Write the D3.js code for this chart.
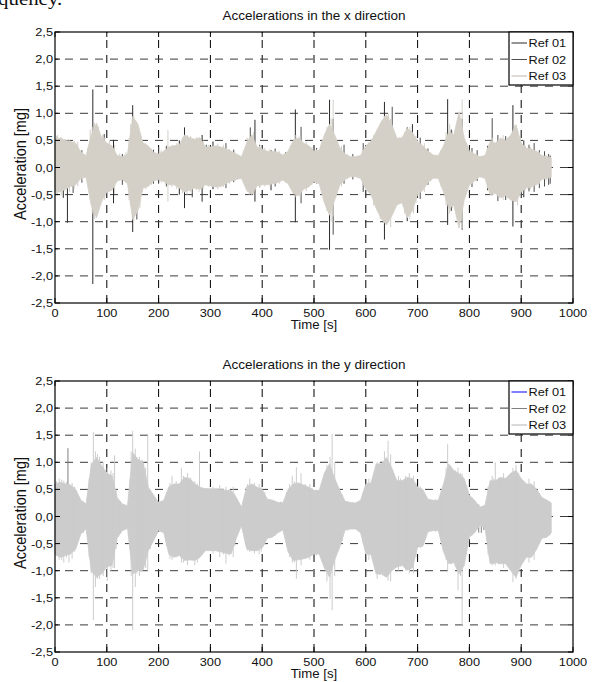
<!DOCTYPE html>
<html>
<head>
<meta charset="utf-8">
<script src="https://cdn.jsdelivr.net/npm/d3@7"></script>
<style>
body { margin: 0; background: #fff; }
text { font-family: "Liberation Sans", Arial, sans-serif; fill: #111; }
</style>
</head>
<body>
<div id="chart"></div>
<script>
// tick values
var xTicks = [0, 100, 200, 300, 400, 500, 600, 700, 800, 900, 1000];
var yTicks = [-2.5, -2.0, -1.5, -1.0, -0.5, 0.0, 0.5, 1.0, 1.5, 2.0, 2.5];

// envelope of the dense signal, read every 10 s: [time, max, min]
var xRef03Env = [[0,0.50,-0.45],[10,0.55,-0.45],[20,0.50,-0.40],[30,0.48,-0.35],[40,0.45,-0.32],[50,0.28,-0.20],[60,0.22,-0.18],[70,0.60,-0.70],[80,0.82,-0.93],[90,0.55,-0.63],
  [100,0.45,-0.45],[110,0.40,-0.42],[120,0.22,-0.25],[130,0.20,-0.22],[140,0.25,-0.30],[150,0.94,-0.96],[160,0.80,-0.80],[170,0.45,-0.38],[180,0.40,-0.35],[190,0.28,-0.25],
  [200,0.25,-0.22],[210,0.30,-0.26],[220,0.38,-0.32],[230,0.40,-0.32],[240,0.42,-0.38],[250,0.60,-0.45],[260,0.55,-0.42],[270,0.52,-0.38],[280,0.55,-0.40],[290,0.38,-0.32],
  [300,0.38,-0.34],[310,0.40,-0.36],[320,0.38,-0.35],[330,0.35,-0.30],[340,0.30,-0.25],[350,0.25,-0.22],[360,0.20,-0.20],[370,0.45,-0.42],[380,0.60,-0.50],[390,0.38,-0.34],
  [400,0.34,-0.32],[410,0.30,-0.32],[420,0.30,-0.30],[430,0.28,-0.28],[440,0.23,-0.23],[450,0.30,-0.30],[460,0.50,-0.48],[470,0.55,-0.52],[480,0.45,-0.40],[490,0.40,-0.36],
  [500,0.30,-0.26],[510,0.32,-0.30],[520,0.60,-0.65],[530,0.80,-0.88],[540,0.60,-0.60],[550,0.36,-0.32],[560,0.25,-0.22],[570,0.20,-0.17],[580,0.20,-0.17],[590,0.22,-0.20],
  [600,0.40,-0.40],[610,0.48,-0.50],[620,0.66,-0.75],[630,0.85,-0.95],[640,0.97,-1.06],[650,0.80,-0.90],[660,0.54,-0.69],[670,0.55,-0.65],[680,0.72,-0.93],[690,0.65,-0.80],
  [700,0.48,-0.50],[710,0.40,-0.42],[720,0.30,-0.28],[730,0.23,-0.20],[740,0.22,-0.20],[750,0.40,-0.45],[760,0.66,-0.75],[770,0.60,-0.70],[780,1.03,-1.12],[790,0.55,-0.60],
  [800,0.30,-0.32],[810,0.25,-0.25],[820,0.20,-0.17],[830,0.22,-0.20],[840,0.48,-0.50],[850,0.45,-0.48],[860,0.54,-0.56],[870,0.50,-0.52],[880,0.60,-0.60],[890,0.79,-0.63],
  [900,0.45,-0.45],[910,0.36,-0.38],[920,0.34,-0.36],[930,0.30,-0.32],[940,0.22,-0.22],[950,0.20,-0.20],[958,0.18,-0.18]];

// single peaks: [time, max, min]
var xRef03Spikes = [[5,0.60,-0.50],[12,0.55,-0.52],[28,0.50,-0.45],[44,0.48,-0.35],[68,0.70,-0.60],[76,0.82,-0.95],[84,0.75,-0.80],[96,0.55,-0.60],[105,0.50,-0.45],
  [146,0.80,-0.70],[152,0.94,-1.00],[164,0.60,-0.75],[175,0.45,-0.40],[218,0.69,-0.63],[235,0.45,-0.40],[255,0.60,-0.50],[278,0.55,-0.45],[375,0.55,-0.50],[383,0.65,-0.50],
  [465,0.60,-0.55],[525,0.75,-0.80],[533,0.90,-1.00],[537,1.25,-0.90],[615,0.60,-0.70],[628,0.80,-0.95],[644,1.00,-1.00],[648,0.90,-1.10],[675,0.65,-0.85],[685,0.75,-0.95],
  [692,0.60,-0.85],[755,0.65,-0.70],[762,0.80,-0.85],[781,1.00,-1.00],[786,1.26,-1.12],[845,0.55,-0.50],[865,0.60,-0.60],[888,0.79,-0.60],[893,0.70,-0.70],
  [3,0.58,-0.48],[19,0.52,-0.44],[37,0.50,-0.40],[53,0.30,-0.24],[63,0.35,-0.30],[72,0.75,-0.85],[92,0.60,-0.55],[115,0.42,-0.48],[125,0.26,-0.22],[137,0.28,-0.25],
  [143,0.55,-0.60],[157,0.85,-0.85],[168,0.50,-0.45],[186,0.35,-0.32],[205,0.32,-0.28],[213,0.35,-0.30],[226,0.42,-0.36],[246,0.55,-0.48],[262,0.58,-0.46],[273,0.56,-0.42],
  [286,0.50,-0.40],[296,0.42,-0.35],[314,0.44,-0.40],[325,0.42,-0.36],[337,0.34,-0.30],[347,0.30,-0.25],[366,0.35,-0.30],[371,0.55,-0.45],[395,0.40,-0.38],[405,0.36,-0.35],
  [415,0.34,-0.36],[433,0.30,-0.30],[455,0.40,-0.38],[473,0.58,-0.55],[485,0.48,-0.44],[496,0.38,-0.32],[505,0.33,-0.30],[515,0.45,-0.45],[544,0.48,-0.45],[553,0.40,-0.35],
  [565,0.24,-0.20],[585,0.22,-0.20],[597,0.35,-0.35],[605,0.46,-0.45],[612,0.52,-0.55],[622,0.70,-0.80],[636,0.95,-1.00],[656,0.62,-0.75],[665,0.55,-0.66],[697,0.58,-0.65],
  [713,0.45,-0.45],[725,0.28,-0.25],[745,0.32,-0.35],[767,0.68,-0.75],[775,0.75,-0.85],[795,0.45,-0.45],[805,0.30,-0.30],[835,0.35,-0.38],[842,0.52,-0.52],[857,0.52,-0.55],
  [874,0.55,-0.56],[898,0.55,-0.55],[908,0.40,-0.42],[918,0.38,-0.40],[935,0.28,-0.30],[948,0.23,-0.24]];
var xRef01Spikes = [[16,0.30,-0.56],[24,0.30,-1.02],[73,1.44,-2.15],[113,0.51,-0.66],[150,1.15,-1.19],[250,0.74,-0.75],[284,0.60,-0.63],[386,0.88,-0.63],[464,1.07,-1.01],
  [530,1.25,-1.52],[636,1.21,-1.33],[680,0.74,-0.99],[758,1.26,-1.06],[884,1.15,-1.09],[240,0.50,-0.50],[305,0.48,-0.40],[417,0.32,-0.42],[690,0.80,-0.70],[765,0.70,-0.80],[905,0.50,-0.55]];
var xRef02Spikes = [[35,0.35,-0.47],[158,0.50,-0.96],[377,0.74,-0.50],[475,0.75,-0.66],[537,0.90,-1.24],[558,0.42,-0.30],[651,1.12,-0.80],[786,0.90,-1.15],[844,0.91,-0.50],
  [945,0.30,-0.35],[953,0.25,-0.32],[200,0.38,-0.30],[265,0.45,-0.55],[330,0.45,-0.38],[425,0.35,-0.35],[595,0.45,-0.45],[705,0.55,-0.58],[855,0.60,-0.62],[925,0.45,-0.45],
  [52,0.32,-0.28],[95,0.62,-0.50],[130,0.25,-0.32],[190,0.33,-0.30],[215,0.40,-0.35],[292,0.42,-0.30],[345,0.33,-0.27],[395,0.42,-0.36],[445,0.28,-0.27],[505,0.36,-0.30],
  [575,0.25,-0.22],[720,0.35,-0.32],[805,0.36,-0.36],[815,0.32,-0.25],[835,0.40,-0.42],[870,0.58,-0.60],[915,0.42,-0.44],[935,0.32,-0.38],[956,0.22,-0.30]];

var yRef03Env = [[0,0.60,-0.70],[10,0.63,-0.75],[20,0.60,-0.72],[30,0.58,-0.69],[40,0.50,-0.60],[50,0.30,-0.32],[60,0.23,-0.23],[70,0.95,-1.00],[80,1.09,-1.12],[90,0.94,-1.06],
  [100,0.80,-0.93],[110,0.75,-0.90],[120,0.35,-0.40],[130,0.23,-0.26],[140,0.20,-0.22],[150,1.18,-1.06],[160,1.05,-1.00],[170,1.00,-0.99],[180,0.54,-0.63],[190,0.40,-0.45],
  [200,0.26,-0.26],[210,0.30,-0.30],[220,0.55,-0.70],[230,0.60,-0.75],[240,0.60,-0.72],[250,0.72,-0.81],[260,0.70,-0.80],[270,0.60,-0.81],[280,0.54,-0.75],[290,0.51,-0.63],
  [300,0.51,-0.63],[310,0.51,-0.63],[320,0.50,-0.65],[330,0.48,-0.68],[340,0.48,-0.69],[350,0.35,-0.40],[360,0.17,-0.17],[370,0.55,-0.60],[380,0.60,-0.63],[390,0.54,-0.63],
  [400,0.50,-0.58],[410,0.32,-0.40],[420,0.30,-0.38],[430,0.26,-0.30],[440,0.25,-0.25],[450,0.50,-0.65],[460,0.60,-0.81],[470,0.62,-0.80],[480,0.58,-0.78],[490,0.54,-0.75],
  [500,0.48,-0.69],[510,0.48,-0.69],[520,0.80,-0.95],[530,0.97,-1.12],[540,0.70,-0.80],[550,0.48,-0.56],[560,0.28,-0.25],[570,0.26,-0.23],[580,0.25,-0.23],[590,0.30,-0.30],
  [600,0.60,-0.69],[610,0.62,-0.70],[620,0.97,-1.06],[630,0.97,-1.06],[640,1.09,-1.12],[650,0.90,-1.00],[660,0.66,-0.93],[670,0.66,-0.90],[680,0.72,-0.99],[690,0.70,-0.95],
  [700,0.54,-0.56],[710,0.50,-0.55],[720,0.32,-0.28],[730,0.30,-0.26],[740,0.30,-0.26],[750,0.60,-0.65],[760,0.97,-0.87],[770,0.85,-0.85],[780,0.79,-1.06],[790,0.70,-0.90],
  [800,0.39,-0.38],[810,0.30,-0.30],[820,0.17,-0.17],[830,0.20,-0.20],[840,0.66,-0.87],[850,0.66,-0.85],[860,0.72,-0.87],[870,0.70,-0.87],[880,0.80,-1.00],[890,0.85,-1.12],
  [900,0.70,-0.90],[910,0.60,-0.75],[920,0.60,-0.75],[930,0.50,-0.60],[940,0.35,-0.40],[950,0.30,-0.38],[958,0.25,-0.30]];
var yRef03Spikes = [[8,0.70,-0.80],[17,0.66,-0.85],[33,0.62,-0.78],[74,1.56,-1.91],[78,1.20,-1.30],[86,1.10,-1.15],[101,0.90,-1.19],[108,0.85,-1.00],[115,1.13,-0.95],
  [150,1.58,-2.10],[155,1.25,-1.30],[163,1.10,-1.10],[179,1.50,-1.00],[226,0.75,-0.80],[244,0.90,-0.85],[256,0.80,-0.90],[270,0.65,-0.90],[279,1.20,-0.70],[318,0.58,-0.75],
  [330,0.55,-0.87],[344,0.55,-0.75],[376,0.70,-0.65],[394,0.60,-0.70],[458,0.75,-0.85],[466,0.91,-1.15],[475,0.80,-0.90],[492,0.60,-0.80],[525,0.95,-1.20],[531,1.10,-1.52],
  [535,1.52,-1.73],[540,1.00,-1.10],[606,0.70,-0.80],[622,1.00,-1.15],[636,1.20,-1.10],[643,1.40,-1.18],[648,1.15,-1.20],[663,0.75,-1.00],[684,0.80,-1.05],[692,0.75,-1.05],
  [755,0.90,-0.80],[758,1.34,-1.00],[778,0.90,-1.36],[786,0.79,-2.00],[844,0.75,-0.90],[850,1.00,-0.90],[866,0.80,-0.95],[884,0.90,-1.21],[890,0.95,-1.15],[915,0.70,-0.85],[925,0.65,-0.80],
  [3,0.65,-0.72],[13,0.68,-0.80],[22,0.64,-0.76],[27,0.60,-0.85],[38,0.55,-0.65],[45,0.38,-0.45],[55,0.28,-0.30],[66,0.70,-0.75],[70,1.00,-1.05],[82,1.15,-1.15],
  [93,1.00,-1.10],[97,0.85,-0.95],[112,0.80,-0.95],[118,0.50,-0.60],[126,0.28,-0.30],[145,0.70,-0.60],[147,1.20,-1.10],[158,1.10,-1.05],[168,1.05,-1.00],[175,0.90,-0.95],
  [184,0.50,-0.60],[195,0.32,-0.35],[215,0.45,-0.55],[222,0.62,-0.78],[234,0.65,-0.75],[248,0.75,-0.85],[262,0.72,-0.80],[275,0.60,-0.85],[286,0.52,-0.68],[295,0.52,-0.60],
  [305,0.55,-0.68],[314,0.52,-0.62],[325,0.52,-0.70],[336,0.50,-0.72],[347,0.42,-0.55],[366,0.35,-0.40],[372,0.60,-0.63],[385,0.62,-0.68],[398,0.55,-0.65],[405,0.45,-0.52],
  [415,0.32,-0.40],[426,0.28,-0.35],[447,0.45,-0.55],[453,0.60,-0.75],[462,0.65,-0.85],[483,0.60,-0.78],[497,0.50,-0.70],[505,0.50,-0.72],[516,0.60,-0.80],[545,0.55,-0.62],
  [555,0.40,-0.45],[565,0.28,-0.26],[595,0.45,-0.50],[602,0.62,-0.72],[615,0.75,-0.85],[627,1.00,-1.08],[655,0.72,-0.95],[667,0.70,-0.92],[677,0.75,-1.00],[697,0.62,-0.75],
  [705,0.56,-0.58],[715,0.40,-0.42],[735,0.32,-0.28],[746,0.45,-0.50],[765,0.92,-0.88],[773,0.85,-0.92],[783,0.80,-1.10],[795,0.55,-0.60],[805,0.35,-0.35],[836,0.55,-0.70],
  [847,0.70,-0.88],[857,0.72,-0.88],[875,0.72,-0.90],[895,0.80,-1.00],[905,0.65,-0.82],[935,0.42,-0.50],[945,0.32,-0.40],[955,0.28,-0.35]];
var yRef01Spikes = [[80,0.80,-0.80],[150,0.90,-0.90],[530,0.70,-0.80],[640,0.80,-0.80]];
var yRef02Spikes = [[25,1.26,-0.55],[436,0.27,-0.20],[818,0.22,-0.30],[823,0.18,-0.30],[828,0.20,-0.25]];

var panels = [
  { top: 32, title: "Accelerations in the x direction",
    series: [
      { name: "Ref 01", color: "#2a2a2a", spikes: xRef01Spikes },
      { name: "Ref 02", color: "#4e4e4e", spikes: xRef02Spikes },
      { name: "Ref 03", color: "#d4d0c8", env: xRef03Env, spikes: xRef03Spikes }
    ] },
  { top: 381, title: "Accelerations in the y direction",
    series: [
      { name: "Ref 01", color: "#0000ff", spikes: yRef01Spikes },
      { name: "Ref 02", color: "#808080", spikes: yRef02Spikes },
      { name: "Ref 03", color: "#cccccc", env: yRef03Env, spikes: yRef03Spikes }
    ] }
];

var left = 55, width = 518, height = 271, sx = 1.1;

var svg = d3.select("#chart").append("svg")
    .attr("width", 600)
    .attr("height", 682);

// text with the slight horizontal stretch of the original picture
function label(g, x, y, s, size, anchor) {
  return g.append("text")
      .attr("transform", "translate(" + x + "," + y + ") scale(" + sx + ",1)")
      .attr("text-anchor", anchor)
      .style("font-size", size + "px")
      .text(s);
}

// bit of caption from the page above the figure
svg.append("text")
    .attr("transform", "translate(-2,5) scale(1.1,1)")
    .style("font-family", "'Liberation Serif', 'Times New Roman', serif")
    .style("font-size", "19px")
    .text("quency.");

var x = d3.scaleLinear().domain([0, 1000]).range([0, width]);
var y = d3.scaleLinear().domain([-2.5, 2.5]).range([height, 0]);
var fmt = function(d) { return d.toFixed(1).replace(".", ","); };

panels.forEach(function(p) {
  var g = svg.append("g").attr("transform", "translate(" + left + "," + p.top + ")");

  // grid
  g.selectAll(".vgrid").data(xTicks.slice(1, -1)).enter().append("line")
      .attr("x1", function(d){ return x(d); }).attr("x2", function(d){ return x(d); })
      .attr("y1", height).attr("y2", 0)
      .attr("stroke", "#000").attr("stroke-dasharray", "8,7");
  g.selectAll(".hgrid").data(yTicks.slice(1, -1)).enter().append("line")
      .attr("x1", 0).attr("x2", width)
      .attr("y1", function(d){ return y(d); }).attr("y2", function(d){ return y(d); })
      .attr("stroke", "#3a3a3a").attr("stroke-dasharray", "8,7").attr("stroke-dashoffset", 5);

  // series, drawn in legend order so the last one lies on top
  p.series.forEach(function(s) {
    if (s.env) {
      var area = d3.area()
          .x(function(d){ return x(d[0]); })
          .y0(function(d){ return y(d[2]); })
          .y1(function(d){ return y(d[1]); });
      g.append("path").datum(s.env)
          .attr("d", area)
          .attr("fill", s.color)
          .attr("stroke", s.color)
          .attr("stroke-width", 0.8);
    }
    g.selectAll(null).data(s.spikes).enter().append("line")
        .attr("x1", function(d){ return x(d[0]); }).attr("x2", function(d){ return x(d[0]); })
        .attr("y1", function(d){ return y(d[1]); }).attr("y2", function(d){ return y(d[2]); })
        .attr("stroke", s.color).attr("stroke-width", 1);
  });

  // frame and inward ticks
  g.append("rect").attr("width", width).attr("height", height)
      .attr("fill", "none").attr("stroke", "#000").attr("stroke-width", 1.2);
  xTicks.forEach(function(t) {
    g.append("line").attr("x1", x(t)).attr("x2", x(t)).attr("y1", height).attr("y2", height - 5).attr("stroke", "#000");
    g.append("line").attr("x1", x(t)).attr("x2", x(t)).attr("y1", 0).attr("y2", 5).attr("stroke", "#000");
    label(g, x(t), height + 14, String(t), 11.6, "middle");
  });
  yTicks.forEach(function(t) {
    g.append("line").attr("x1", 0).attr("x2", 5).attr("y1", y(t)).attr("y2", y(t)).attr("stroke", "#000");
    g.append("line").attr("x1", width).attr("x2", width - 5).attr("y1", y(t)).attr("y2", y(t)).attr("stroke", "#000");
    label(g, -2, y(t) + 4, fmt(t), 11.6, "end");
  });

  // titles
  label(g, width / 2, -12, p.title, 12.3, "middle");
  label(g, width / 2, height + 26, "Time [s]", 12, "middle");
  g.append("text")
      .attr("transform", "translate(-29," + (height / 2 - 3.5) + ") rotate(-90) scale(1,1.1)")
      .attr("text-anchor", "middle")
      .style("font-size", "14.5px")
      .text("Acceleration [mg]");

  // legend
  var lg = g.append("g").attr("transform", "translate(" + (width - 64) + ",0)");
  lg.append("rect").attr("width", 64).attr("height", 53)
      .attr("fill", "#fff").attr("stroke", "#000").attr("stroke-width", 1.2);
  p.series.forEach(function(s, i) {
    var yy = 11 + i * 16.5;
    lg.append("line").attr("x1", 2.5).attr("x2", 18).attr("y1", yy).attr("y2", yy)
        .attr("stroke", s.color).attr("stroke-width", s.env ? 1.5 : 1);
    label(lg, 19.5, yy + 4, s.name, 11.6, "start");
  });
});
</script>
</body>
</html>
